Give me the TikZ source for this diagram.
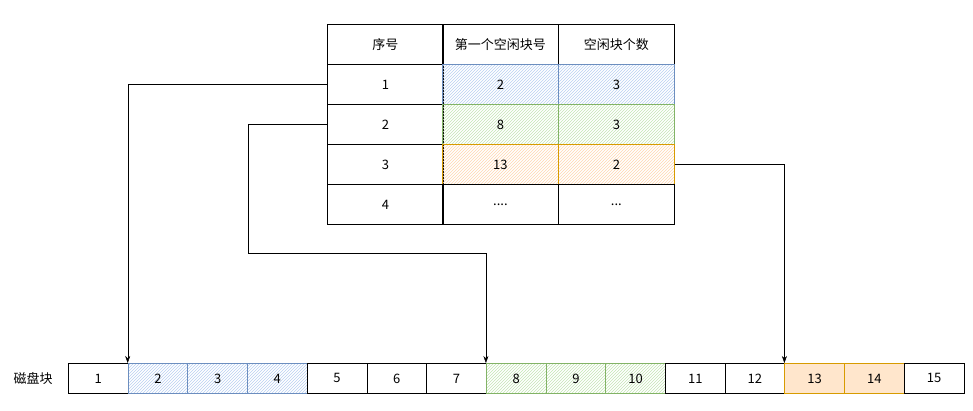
\documentclass[tikz,border=0pt]{standalone}
\usepackage{fontspec}
\setmainfont{Noto Sans CJK SC}
\usetikzlibrary{patterns,arrows.meta}
\definecolor{bfill}{HTML}{B8CFF0}\definecolor{bline}{HTML}{6C8EBF}
\definecolor{gfill}{HTML}{C4E4B4}\definecolor{gline}{HTML}{82B366}
\definecolor{ofill}{HTML}{FFD6B0}\definecolor{oline}{HTML}{D79B00}
\definecolor{osolid}{HTML}{FFE6CC}
\tikzset{
 cell/.style={draw=black,thick,minimum width=116pt,minimum height=40pt,inner sep=0,font=\fontsize{13pt}{15pt}\selectfont,anchor=north west},
 blk/.style={draw=black,thick,minimum width=59.7pt,minimum height=30pt,inner sep=0,font=\fontsize{13pt}{15pt}\selectfont,anchor=north west},
 hb/.style={draw=bline,thick,pattern=north east lines,pattern color=bfill},
 hg/.style={draw=gline,thick,pattern=north east lines,pattern color=gfill},
 ho/.style={draw=oline,thick,pattern=north east lines,pattern color=ofill},
 so/.style={draw=oline,thick,fill=osolid},
 conn/.style={-{Stealth[length=7pt,width=5pt]},black}
}
\begin{document}
\begin{tikzpicture}[x=1pt,y=-1pt]
\useasboundingbox (0,0) rectangle (973,410);
% table
\node[cell] (h0) at (327,24) {序号};
\node[cell] (h1) at (442,24) {第一个空闲块号};
\node[cell] (h2) at (558,24) {空闲块个数};
\node[cell] (r1a) at (327,64) {1};
\node[cell,hb] (r1b) at (442,64) {2};
\node[cell,hb] (r1c) at (558,64) {3};
\node[cell] (r2a) at (327,104) {2};
\node[cell,hg] (r2b) at (442,104) {8};
\node[cell,hg] (r2c) at (558,104) {3};
\node[cell] (r3a) at (327,144) {3};
\node[cell,ho] (r3b) at (442,144) {13};
\node[cell,ho] (r3c) at (558,144) {2};
\node[cell] (r4a) at (327,184) {4};
\node[cell] (r4b) at (442,184) {....};
\node[cell] (r4c) at (558,184) {...};
% disk
\node[font=\fontsize{13pt}{15pt}\selectfont] (lbl) at (33,378) {磁盘块};
\foreach \i/\s in {1/,2/hb,3/hb,4/hb,5/,6/,7/,8/hg,9/hg,10/hg,11/,12/,13/so,14/so,15/}{
  \node[blk,\s] (b\i) at ({68+(\i-1)*59.7},363) {\i};
}
% connectors
\draw[conn] (r1a.west) -| (b2.north west);
\coordinate (c1) at (248,253);
\draw[conn] (r2a.west) -| (c1) -| (b8.north west);
\draw[conn] (r3c.east) -| (b13.north west);
\end{tikzpicture}
\end{document}
